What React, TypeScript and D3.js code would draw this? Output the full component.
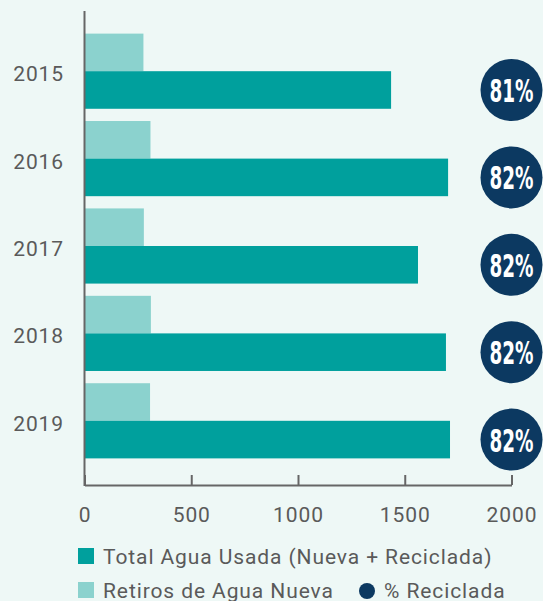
import { useRef, useEffect } from "react";
import * as d3 from "d3";

const years = ["2015", "2016", "2017", "2018", "2019"];
const totalUsed = [1436, 1703, 1562, 1693, 1712];
const newWithdrawals = [276, 309, 278, 311, 307];
const pctRecycled = [81, 82, 82, 82, 82];
const xTicks = [0, 500, 1000, 1500, 2000];

const W = 543;
const H = 601;
const BG = "#eef8f6";
const DARK = "#00a09d";
const LIGHT = "#8bd2ce";
const NAVY = "#0c3961";
const GREY = "#5a5a5a";
const FONT = "Roboto, 'Noto Sans', sans-serif";
const SPACING = 0.9;

export default function App() {
  const axisRef = useRef(null);

  const x = d3.scaleLinear().domain([0, 2000]).range([84.5, 511.5]);
  const y = d3
    .scaleBand()
    .domain(years)
    .range([27.5, 464.5])
    .paddingInner(0.14)
    .paddingOuter(0.07);
  const half = y.bandwidth() / 2;
  const axisY = 485;

  useEffect(() => {
    const g = d3.select(axisRef.current);
    g.selectAll("*").remove();
    const axis = g
      .append("g")
      .attr("transform", `translate(0,${axisY})`)
      .call(
        d3
          .axisBottom(x)
          .tickValues(xTicks)
          .tickSizeInner(-10)
          .tickSizeOuter(0)
          .tickPadding(22)
          .tickFormat((d) => String(d))
      );
    axis.select(".domain").attr("stroke", "#666").attr("stroke-width", 2);
    axis.selectAll(".tick line").attr("stroke", "#666").attr("stroke-width", 2);
    axis
      .selectAll("text")
      .attr("font-size", 21)
      .attr("font-family", FONT)
      .attr("letter-spacing", SPACING)
      .attr("fill", GREY);

    g.append("line")
      .attr("x1", x(0))
      .attr("x2", x(0))
      .attr("y1", 11)
      .attr("y2", axisY + 1)
      .attr("stroke", "#666")
      .attr("stroke-width", 2);
  }, []);

  return (
    <svg
      width={W}
      height={H}
      style={{ position: "absolute", left: 0, top: 0 }}
    >
      <rect width={W} height={H} fill={BG} />
      {years.map((yr, i) => {
        const top = y(yr)!;
        return (
          <g key={yr}>
            <rect
              x={x(0)}
              y={top}
              width={x(newWithdrawals[i]) - x(0)}
              height={half}
              fill={LIGHT}
            />
            <rect
              x={x(0)}
              y={top + half}
              width={x(totalUsed[i]) - x(0)}
              height={half}
              fill={DARK}
            />
            <text
              x={64}
              y={top + half + 10}
              textAnchor="end"
              fontSize={21}
              fontFamily={FONT}
              letterSpacing={SPACING}
              fill={GREY}
            >
              {yr}
            </text>
            <circle cx={x(2000)} cy={top + half * 1.5} r={31} fill={NAVY} />
            <text
              x={x(2000)}
              y={top + half * 1.5 + 12}
              textAnchor="middle"
              fontSize={32}
              fontWeight="bold"
              fontFamily="'Liberation Sans Narrow', 'DejaVu Sans Condensed', sans-serif"
              fill="#fff"
              textLength={44}
              lengthAdjust="spacingAndGlyphs"
            >
              {pctRecycled[i]}%
            </text>
          </g>
        );
      })}
      <g ref={axisRef} />
      <g fontFamily={FONT} fontSize={21} letterSpacing={SPACING} fill={GREY}>
        <rect x={78} y={548} width={16} height={16} fill={DARK} />
        <text x={103} y={564}>Total Agua Usada (Nueva + Reciclada)</text>
        <rect x={78} y={582} width={16} height={16} fill={LIGHT} />
        <text x={103} y={598}>Retiros de Agua Nueva</text>
        <circle cx={367} cy={591} r={8} fill={NAVY} />
        <text x={384} y={598}>% Reciclada</text>
      </g>
    </svg>
  );
}
